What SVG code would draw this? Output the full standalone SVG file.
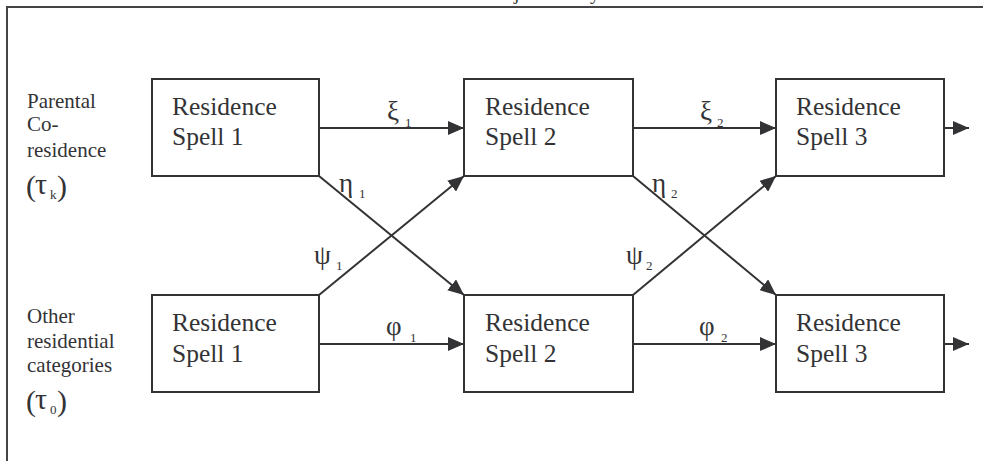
<svg xmlns="http://www.w3.org/2000/svg" width="983" height="461" viewBox="0 0 983 461">
  <style>
    .box { fill: #ffffff; stroke: #333336; stroke-width: 2; }
    .frame { stroke: #444447; stroke-width: 2; fill: none; }
    .conn { stroke: #333336; stroke-width: 2; fill: none; }
    .t { font-family: 'Liberation Serif', 'Times New Roman', serif; fill: #333336; }
    .node { font-size: 25.5px; }
    .side { font-size: 21px; }
    .gk { font-size: 27px; }
    .sub { font-size: 13px; }
    .par { font-size: 30px; }
  </style>
  <defs>
    <marker id="ah" markerUnits="userSpaceOnUse" markerWidth="16" markerHeight="14" refX="16" refY="7" orient="auto">
      <path d="M0,0 L16,7 L0,14 z" fill="#333336"/>
    </marker>
  </defs>
  <rect width="983" height="461" fill="#ffffff"/>

  <g id="frame">
    <line class="frame" x1="6" y1="7" x2="983" y2="7"/>
    <line class="frame" x1="7" y1="6" x2="7" y2="461"/>
    <text class="t" font-family="Liberation Serif, serif" x="514" y="-1" font-size="20">j</text>
    <text class="t" font-family="Liberation Serif, serif" x="590" y="-1" font-size="20">y</text>
  </g>

  <g id="label-parental" font-family="Liberation Serif, serif">
    <text class="t side" x="27" y="108">Parental</text>
    <text class="t side" x="27" y="131">Co-</text>
    <text class="t side" x="27" y="157">residence</text>
    <text class="t par" x="26" y="196">(</text>
    <text class="t par" x="35" y="194">τ</text>
    <text class="t sub" x="50" y="199">k</text>
    <text class="t par" x="57" y="196">)</text>
  </g>
  <g id="label-other" font-family="Liberation Serif, serif">
    <text class="t side" x="27" y="323">Other</text>
    <text class="t side" x="27" y="348">residential</text>
    <text class="t side" x="27" y="372">categories</text>
    <text class="t par" x="26" y="411">(</text>
    <text class="t par" x="35" y="409">τ</text>
    <text class="t sub" x="50" y="414">0</text>
    <text class="t par" x="57" y="411">)</text>
  </g>

  <g id="connectors" font-family="Liberation Serif, serif">
    <line class="conn" x1="319" y1="128" x2="464" y2="128" marker-end="url(#ah)"/>
    <line class="conn" x1="633" y1="128" x2="776" y2="128" marker-end="url(#ah)"/>
    <line class="conn" x1="944" y1="128" x2="969" y2="128" marker-end="url(#ah)"/>
    <line class="conn" x1="319" y1="344" x2="464" y2="344" marker-end="url(#ah)"/>
    <line class="conn" x1="633" y1="344" x2="776" y2="344" marker-end="url(#ah)"/>
    <line class="conn" x1="944" y1="344" x2="969" y2="344" marker-end="url(#ah)"/>
    <line class="conn" x1="319" y1="176" x2="464" y2="295" marker-end="url(#ah)"/>
    <line class="conn" x1="319" y1="295" x2="464" y2="176" marker-end="url(#ah)"/>
    <line class="conn" x1="633" y1="176" x2="776" y2="295" marker-end="url(#ah)"/>
    <line class="conn" x1="633" y1="295" x2="776" y2="176" marker-end="url(#ah)"/>

    <text class="t gk" x="387" y="120">ξ</text><text class="t sub" x="405" y="127">1</text>
    <text class="t gk" x="700" y="120">ξ</text><text class="t sub" x="717" y="127">2</text>
    <text class="t gk" x="339" y="192">η</text><text class="t sub" x="359" y="198">1</text>
    <text class="t gk" x="314" y="264">ψ</text><text class="t sub" x="336" y="270">1</text>
    <text class="t gk" x="652" y="192">η</text><text class="t sub" x="671" y="198">2</text>
    <text class="t gk" x="626" y="264">ψ</text><text class="t sub" x="646" y="270">2</text>
    <text class="t gk" x="386" y="335">φ</text><text class="t sub" x="410" y="342">1</text>
    <text class="t gk" x="699" y="335">φ</text><text class="t sub" x="721" y="342">2</text>
  </g>

  <g id="node-p1" font-family="Liberation Serif, serif">
    <rect class="box" x="152" y="79" width="167" height="97"/>
    <text class="t node" x="172" y="115">Residence</text>
    <text class="t node" x="172" y="145">Spell 1</text>
  </g>
  <g id="node-p2" font-family="Liberation Serif, serif">
    <rect class="box" x="464" y="79" width="169" height="97"/>
    <text class="t node" x="485" y="115">Residence</text>
    <text class="t node" x="485" y="145">Spell 2</text>
  </g>
  <g id="node-p3" font-family="Liberation Serif, serif">
    <rect class="box" x="776" y="79" width="168" height="97"/>
    <text class="t node" x="796" y="115">Residence</text>
    <text class="t node" x="796" y="145">Spell 3</text>
  </g>
  <g id="node-o1" font-family="Liberation Serif, serif">
    <rect class="box" x="152" y="295" width="167" height="97"/>
    <text class="t node" x="172" y="331">Residence</text>
    <text class="t node" x="172" y="362">Spell 1</text>
  </g>
  <g id="node-o2" font-family="Liberation Serif, serif">
    <rect class="box" x="464" y="295" width="169" height="97"/>
    <text class="t node" x="485" y="331">Residence</text>
    <text class="t node" x="485" y="362">Spell 2</text>
  </g>
  <g id="node-o3" font-family="Liberation Serif, serif">
    <rect class="box" x="776" y="295" width="168" height="97"/>
    <text class="t node" x="796" y="331">Residence</text>
    <text class="t node" x="796" y="362">Spell 3</text>
  </g>
</svg>
